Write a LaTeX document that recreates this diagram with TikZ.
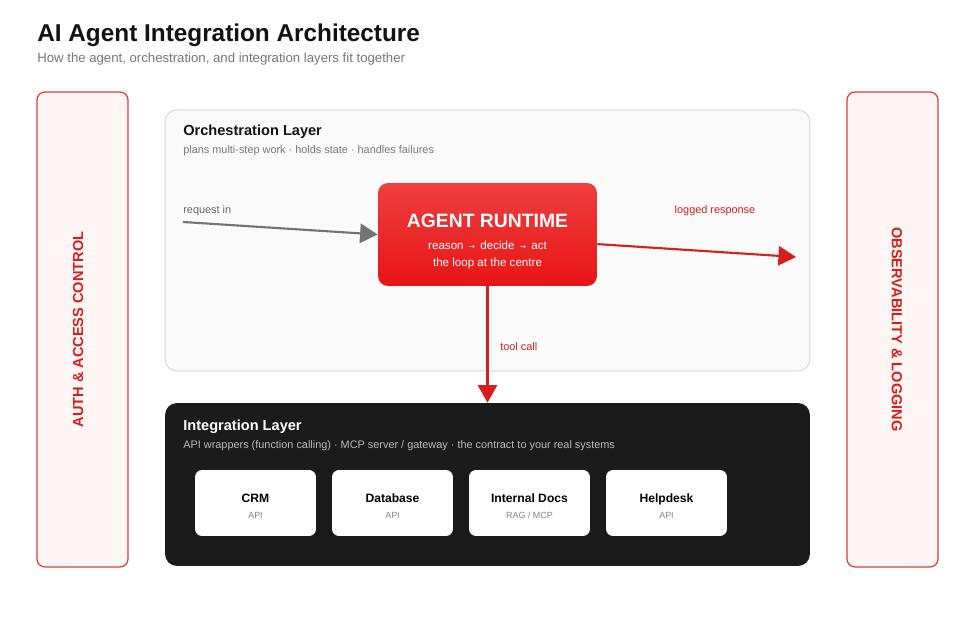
\documentclass[tikz,border=0pt]{standalone}
\usepackage{fontspec}
\setmainfont{Liberation Sans}
\newfontfamily\arrowfont{DejaVu Sans}
\usetikzlibrary{arrows.meta, positioning, calc}
\definecolor{aired}{RGB}{215, 30, 30}
\definecolor{aiside}{RGB}{222, 60, 60}
\definecolor{aipink}{RGB}{254, 245, 245}
\definecolor{aigray}{RGB}{119, 119, 119}
\definecolor{aidark}{RGB}{27, 27, 27}
\definecolor{orchfill}{RGB}{250, 250, 250}
\definecolor{orchline}{RGB}{218, 218, 218}
\definecolor{runtop}{RGB}{240, 62, 62}
\definecolor{runbot}{RGB}{232, 20, 22}
\tikzset{
  sidebar/.style={rectangle, rounded corners=4.5pt, draw=aiside, line width=0.7pt, fill=aipink,
                  minimum width=1.82cm, minimum height=9.5cm},
  sidelabel/.style={inner sep=0pt, text=aired, font=\fontsize{8.3}{10}\selectfont\bfseries},
  layerbox/.style={rectangle, rounded corners=6.8pt, minimum width=12.9cm, minimum height=#1},
  agentbox/.style={rectangle, rounded corners=5.7pt, top color=runtop, bottom color=runbot,
                   minimum width=4.38cm, minimum height=2.06cm, align=center, text=white,
                   font=\fontsize{6.6}{9.6}\selectfont},
  card/.style={rectangle, rounded corners=4pt, fill=white, minimum width=2.42cm,
               minimum height=1.32cm, align=center, font=\fontsize{6.9}{9.6}\selectfont\bfseries},
  heading/.style={anchor=base west, inner sep=0pt, font=\fontsize{8.3}{10}\selectfont\bfseries},
  subline/.style={anchor=base west, inner sep=0pt, font=\fontsize{6.2}{8}\selectfont},
  flowlabel/.style={inner sep=0pt, font=\fontsize{6.2}{8}\selectfont},
  flow/.style={-{Triangle[length=10pt, width=11pt]}, line width=1.2pt},
}
\newcommand{\cardsub}[1]{{\fontsize{5.1}{6}\selectfont\mdseries\color{black!48}#1}\rule[-1pt]{0pt}{1pt}}
\newcommand{\smallarr}{\hspace{3pt}{\arrowfont\fontsize{4.2}{5}\selectfont →}\hspace{3pt}}

\begin{document}
\begin{tikzpicture}[x=0.02cm, y=-0.02cm]
  \useasboundingbox[fill=white] (0,0) rectangle (975,634);

  % title
  \node[anchor=base west, inner sep=0pt, font=\fontsize{13.85}{16}\selectfont\bfseries,
        text=black!93] (title) at (37,42) {AI Agent Integration Architecture};
  \node[anchor=base west, inner sep=0pt, font=\fontsize{7.5}{9}\selectfont, text=aigray]
       (subtitle) at (37,63) {How the agent, orchestration, and integration layers fit together};

  % cross-cutting bars
  \node[sidebar] (auth) at (82.5,329.5) {};
  \node[sidelabel, rotate=90] (authlbl) at ([xshift=-0.09cm]auth.center) {AUTH \& ACCESS CONTROL};
  \node[sidebar] (obs) at (892.5,329.5) {};
  \node[sidelabel, rotate=-90] (obslbl) at ([xshift=0.09cm]obs.center) {OBSERVABILITY \& LOGGING};

  % orchestration layer
  \node[layerbox=5.22cm, draw=orchline, line width=0.6pt, fill=orchfill] (orch) at (487.5,240.5) {};
  \node[heading, text=black!92] (orchtitle) at (183,136) {Orchestration Layer};
  \node[subline, text=aigray] (orchsub) at (183,154)
       {plans multi-step work · holds state · handles failures};

  \node[agentbox] (agent) at (487.5,234.5)
       {\rule{0pt}{15.5pt}{\fontsize{11}{13}\selectfont\bfseries AGENT RUNTIME}\\[3.4pt]
        reason\smallarr decide\smallarr act\\
        the loop at the centre\rule[-1.4pt]{0pt}{1.4pt}};

  % integration layer
  \node[layerbox=3.26cm, fill=aidark] (integ) at (487.5,484.5) {};
  \node[heading, text=white] (integtitle) at (183,431) {Integration Layer};
  \node[subline, text=black!27] (integsub) at (183,449)
       {API wrappers (function calling) · MCP server / gateway · the contract to your real systems};

  \node[card] (crm) at (255.5,503) {\rule{0pt}{9.5pt}CRM\\\cardsub{API}};
  \node[card] (db) at (392.5,503) {\rule{0pt}{9.5pt}Database\\\cardsub{API}};
  \node[card] (docs) at (529.5,503) {\rule{0pt}{9.5pt}Internal Docs\\\cardsub{RAG / MCP}};
  \node[card] (help) at (666.5,503) {\rule{0pt}{9.5pt}Helpdesk\\\cardsub{API}};

  % flows
  \coordinate (reqin) at (183,222);
  \coordinate (logout) at (796,257);
  \draw[flow, draw=black!55, color=black!55] (reqin) -- (agent.west);
  \node[flowlabel, anchor=base west, text=black!60] (reqlbl) at (183,214) {request in};
  \draw[flow, aired] (agent.-5) -- (logout);
  \node[flowlabel, anchor=base, text=aired] (loglbl) at (715,214) {logged response};
  \draw[flow, aired] (agent) -- (integ);
  \node[flowlabel, anchor=base west, text=aired] (toollbl) at (500,351) {tool call};
\end{tikzpicture}
\end{document}
